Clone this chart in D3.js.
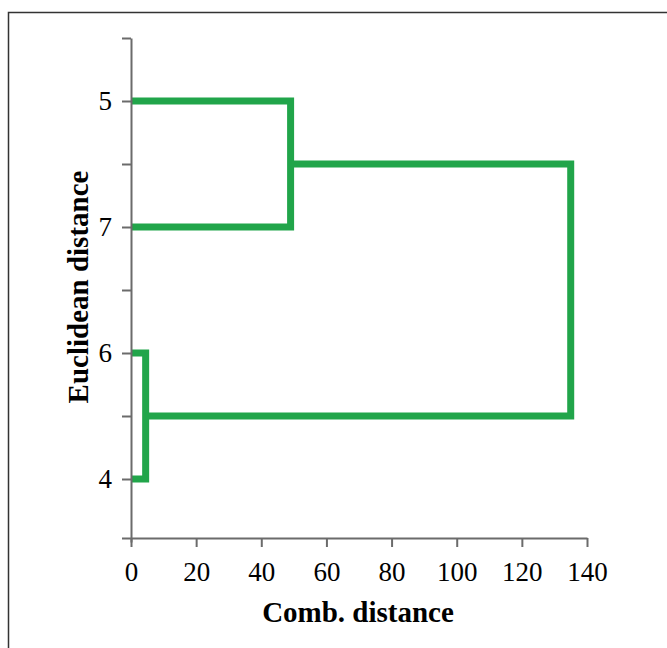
<!DOCTYPE html>
<html>
<head>
<meta charset="utf-8">
<script src="https://cdn.jsdelivr.net/npm/d3@7"></script>
<style>
  body { margin: 0; background: #fff; }
  svg { display: block; }
</style>
</head>
<body>
<script>
// leaves of the dendrogram, top to bottom, and their slot on the vertical axis
var leafLabels = ["5", "7", "6", "4"];
var leafSlots = [1, 3, 5, 7];
// merges: children (node index; leaves are 0..3, merges follow) and comb. distance
var mergeChildren = [[0, 1], [2, 3], [4, 5]];
var mergeHeights = [49, 4.5, 135];
var xTicks = [0, 20, 40, 60, 80, 100, 120, 140];

var width = 667, height = 648;
var axisY = 538;

var svg = d3.select("body").append("svg")
    .attr("width", width)
    .attr("height", height);

// frame (only top and left edge visible in the crop)
svg.append("rect")
    .attr("x", 8.5).attr("y", 12.5)
    .attr("width", 700).attr("height", 700)
    .attr("fill", "none")
    .attr("stroke", "#333")
    .attr("stroke-width", 1.5);

var x = d3.scaleLinear()
    .domain([0, 140])
    .range([131, 587]);

var y = d3.scaleLinear()
    .domain([0, 8])
    .range([38, 542]);

// node positions
var nodes = leafSlots.map(function(s) { return {x: 0, y: s}; });
mergeChildren.forEach(function(c, i) {
    var a = nodes[c[0]], b = nodes[c[1]];
    nodes.push({x: mergeHeights[i], y: (a.y + b.y) / 2, a: a, b: b});
});

var merges = nodes.slice(leafSlots.length);

svg.append("g")
  .selectAll("path")
  .data(merges)
  .enter().append("path")
    .attr("fill", "none")
    .attr("stroke", "#21a54a")
    .attr("stroke-width", 7)
    .attr("stroke-linejoin", "miter")
    .attr("stroke-linecap", "butt")
    .attr("d", function(d) {
        return "M" + x(d.a.x) + "," + y(d.a.y) +
               "H" + x(d.x) +
               "V" + y(d.b.y) +
               "H" + x(d.b.x);
    });

var font = "'Liberation Serif', 'Times New Roman', serif";

// x axis
var gx = svg.append("g")
    .attr("transform", "translate(0," + axisY + ")")
    .call(d3.axisBottom(x).tickValues(xTicks).tickSize(9).tickPadding(15).tickSizeOuter(0));

// y axis
var ticksY = d3.range(0, 8).concat([y.invert(axisY)]);
var gy = svg.append("g")
    .attr("transform", "translate(131,0)")
    .call(d3.axisLeft(y).tickValues(ticksY).tickSize(9).tickPadding(10).tickSizeOuter(0)
        .tickFormat(function(v) {
            var i = leafSlots.indexOf(v);
            return i < 0 ? "" : leafLabels[i];
        }));

[gx, gy].forEach(function(g) {
    g.selectAll(".domain, .tick line")
        .attr("stroke", "#6b6b6b")
        .attr("stroke-width", 2);
    g.selectAll(".tick text")
        .attr("fill", "#000")
        .style("font-family", font)
        .style("font-size", "27px");
});

svg.append("text")
    .attr("x", 358)
    .attr("y", 622)
    .attr("text-anchor", "middle")
    .style("font-family", font)
    .style("font-size", "29px")
    .style("font-weight", "bold")
    .text("Comb. distance");

svg.append("text")
    .attr("transform", "translate(88,287) rotate(-90)")
    .attr("text-anchor", "middle")
    .style("font-family", font)
    .style("font-size", "29px")
    .style("font-weight", "bold")
    .text("Euclidean distance");
</script>
</body>
</html>
